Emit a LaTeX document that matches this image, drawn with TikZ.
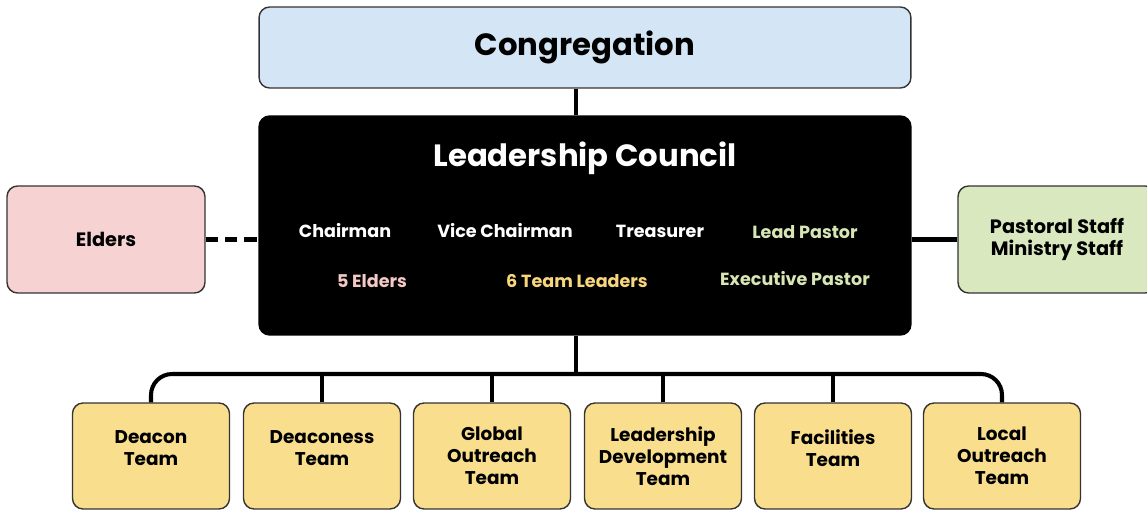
\documentclass[tikz,border=0pt]{standalone}
\usepackage{fontspec}
\setmainfont{Poppins}
\usepackage{tikz}

\definecolor{congblue}{HTML}{D4E5F6}
\definecolor{elderpink}{HTML}{F6D2D3}
\definecolor{staffgreen}{HTML}{D9E8BE}
\definecolor{teamyellow}{HTML}{F9DE8E}
\definecolor{pinktext}{HTML}{F4C9C6}
\definecolor{yellowtext}{HTML}{F8D77C}
\definecolor{greentext}{HTML}{D8E6B4}
\definecolor{edgegray}{HTML}{333333}

\tikzset{
    box/.style={draw=edgegray, line width=0.8pt, rounded corners=6pt, align=center, font=\bfseries},
    teambox/.style={box, fill=teamyellow, minimum width=3.14cm, minimum height=2.12cm, font=\fontsize{10.5}{12.5}\selectfont\bfseries},
    link/.style={line width=2.3pt},
    member/.style={font=\fontsize{10}{12}\selectfont\bfseries}
}

\begin{document}
\begin{tikzpicture}[x=0.02cm, y=-0.02cm]
    \useasboundingbox (0,0) rectangle (1147,510);
    \clip (0,0) rectangle (1147,510);

    % Top level
    \node (cong) at (585,47.5) [box, fill=congblue, minimum width=13.04cm, minimum height=1.62cm, font=\fontsize{17.5}{20}\selectfont\bfseries] {Congregation};

    % Council
    \node (council) at (585,225.5) [box, fill=black, draw=black, minimum width=13.04cm, minimum height=4.38cm] {};
    \node (title) at (585,158) [font=\fontsize{17.5}{20}\selectfont\bfseries, text=white] {Leadership Council};
    \node (chair) at (345,231) [member, text=white] {Chairman};
    \node (vice) at (505,231) [member, text=white] {Vice Chairman};
    \node (treas) at (660,231) [member, text=white] {Treasurer};
    \node (lead) at (805,232) [member, text=greentext] {Lead Pastor};
    \node (fiveeld) at (372,281) [member, text=pinktext] {5 Elders};
    \node (teamlead) at (577,281) [member, text=yellowtext] {6 Team Leaders};
    \node (exec) at (795,279) [member, text=greentext] {Executive Pastor};

    % Side boxes
    \node (elders) at (106,239.5) [box, fill=elderpink, minimum width=3.96cm, minimum height=2.14cm, font=\fontsize{11}{13}\selectfont\bfseries] {Elders};
    \node (staff) at (1057,239.5) [box, fill=staffgreen, minimum width=3.96cm, minimum height=2.14cm, font=\fontsize{11}{13}\selectfont\bfseries] {Pastoral Staff\\Ministry Staff};

    % Teams
    \node (deacon) at (151,456) [teambox] {Deacon\\Team\\[-0.3em]\phantom{x}};
    \node (deaconess) at (322,456) [teambox] {Deaconess\\Team\\[-0.3em]\phantom{x}};
    \node (global) at (492,456) [teambox] {Global\\Outreach\\Team};
    \node (leaddev) at (663,456) [teambox] {Leadership\\Development\\Team};
    \node (facil) at (833,456) [teambox] {Facilities\\Team\\[-0.3em]\phantom{x}};
    \node (local) at (1002,456) [teambox] {Local\\Outreach\\Team};

    % Connectors
    \coordinate (bus) at (576,374);
    \draw[link] (cong.south -| bus) -- (council.north -| bus);
    \draw[link] (council.south -| bus) -- (bus);
    \draw[link, dashed, dash pattern=on 7pt off 4pt] (elders.east) -- (elders.east -| council.west);
    \draw[link] (staff.west -| council.east) -- (staff.west);
    \draw[link, rounded corners=12pt] (deacon.north) -- (deacon.north |- bus) -- (local.north |- bus) -- (local.north);
    \foreach \t in {deaconess, global, leaddev, facil}
        \draw[link] (\t.north) -- (\t.north |- bus);
\end{tikzpicture}
\end{document}
